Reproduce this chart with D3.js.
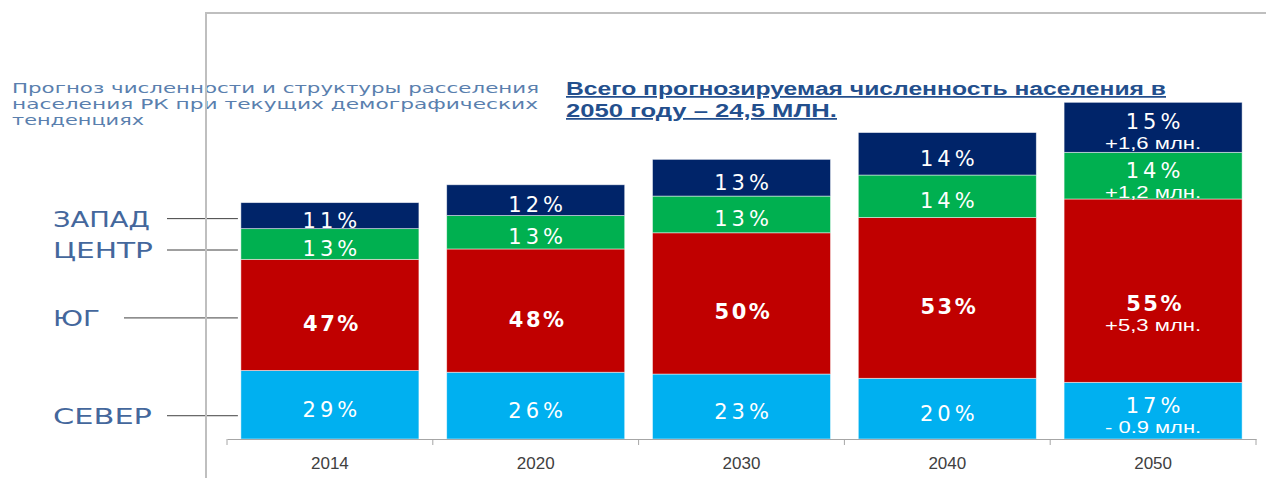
<!DOCTYPE html>
<html>
<head>
<meta charset="utf-8">
<script src="https://cdn.jsdelivr.net/npm/d3@7"></script>
<style>
  body { margin: 0; background: #fff; }
  svg { display: block; }
</style>
</head>
<body>
<div class="chart"></div>
<script>
let years = ['2014', '2020', '2030', '2040', '2050']
let totals = [17.2, 18.5, 20.35, 22.3, 24.5]   // млн. человек
let regions = ['СЕВЕР', 'ЮГ', 'ЦЕНТР', 'ЗАПАД']  // снизу вверх
let sever = [29, 26, 23, 20, 17]
let yug = [47, 48, 50, 53, 55]
let centr = [13, 13, 13, 14, 14]
let zapad = [11, 12, 13, 14, 15]
let change2050 = ['- 0.9 млн.', '+5,3 млн.', '+1,2 млн.', '+1,6 млн.']
let colors = ['#00b0f0', '#c00000', '#00b050', '#002469']

let width = 1266
let height = 478

let svg = d3.select('.chart')
            .append('svg')
            .attr('width', width)
            .attr('height', height)

let xScale = d3.scaleBand()
               .domain(years)
               .range([227, 1256])
               .paddingInner(0.135)
               .paddingOuter(0.0675)

let yScale = d3.scaleLinear()
               .domain([0, 31])
               .range([439, 13])

// stacked table
let table = years.map((y, i) => {
    let p = [sever[i], yug[i], centr[i], zapad[i]]
    let sum = d3.sum(p)
    let row = { year: y }
    regions.forEach((r, k) => { row[r] = totals[i] * p[k] / sum; row[r + '_p'] = p[k] })
    return row
})

let stack = d3.stack().keys(regions)(table)

// header texts
let leftTitle = ['Прогноз численности и структуры расселения',
                 'населения РК при текущих демографических',
                 'тенденциях']
let leftLens = [527, 526, 132]
leftTitle.forEach((t, i) => {
    svg.append('text')
       .attr('x', 12)
       .attr('y', 93 + i * 16)
       .attr('fill', '#5a7fae')
       .attr('font-family', 'DejaVu Sans')
       .attr('font-size', 14.5)
       .attr('textLength', leftLens[i])
       .attr('lengthAdjust', 'spacingAndGlyphs')
       .text(t)
})

let rightTitle = ['Всего прогнозируемая численность населения в',
                  '2050 году – 24,5 МЛН.']
let rightLens = [600, 271]
rightTitle.forEach((t, i) => {
    svg.append('text')
       .attr('x', 566)
       .attr('y', 95 + i * 22)
       .attr('fill', '#234f8d')
       .attr('font-family', 'Liberation Sans')
       .attr('font-weight', 'bold')
       .attr('font-size', 17.5)
       .attr('text-decoration', 'underline')
       .attr('textLength', rightLens[i])
       .attr('lengthAdjust', 'spacingAndGlyphs')
       .text(t)
})

// bars
let groups = svg.selectAll('g.layer')
                .data(stack)
                .enter()
                .append('g')
                .attr('class', 'layer')
                .attr('fill', (d, i) => colors[i])

groups.selectAll('rect')
      .data(d => d)
      .enter()
      .append('rect')
      .attr('x', d => xScale(d.data.year))
      .attr('y', d => yScale(d[1]))
      .attr('width', xScale.bandwidth())
      .attr('height', d => yScale(d[0]) - yScale(d[1]))
      .attr('stroke', '#ffffff')
      .attr('stroke-opacity', 0.6)
      .attr('stroke-width', 0.8)

// value labels
stack.forEach((layer, k) => {
    layer.forEach((d, i) => {
        let cx = xScale(d.data.year) + xScale.bandwidth() / 2
        let last = i === years.length - 1
        let mid = (yScale(d[0]) + yScale(d[1])) / 2 + (k === 1 ? (last ? 18 : 4) : 0)
        svg.append('text')
           .attr('x', cx + 2)
           .attr('y', last ? mid + 2 : mid + 12)
           .attr('text-anchor', 'middle')
           .attr('fill', 'white')
           .attr('font-family', 'DejaVu Sans')
           .attr('font-weight', k === 1 ? 'bold' : 'normal')
           .attr('font-size', 21)
           .attr('letter-spacing', k === 1 ? 2.5 : 4)
           .text(d.data[regions[k] + '_p'] + '%')
        if (last) {
            svg.append('text')
               .attr('x', cx)
               .attr('y', mid + 22)
               .attr('text-anchor', 'middle')
               .attr('fill', 'white')
               .attr('font-family', 'Liberation Sans')
               .attr('font-size', 16)
               .attr('textLength', 96)
               .attr('lengthAdjust', 'spacingAndGlyphs')
               .text(change2050[k])
        }
    })
})

// x axis
let xAxis = d3.axisBottom(xScale).tickSize(0).tickPadding(18)
let gx = svg.append('g')
            .attr('transform', 'translate(0,439)')
            .call(xAxis)
gx.select('.domain').attr('stroke', '#a6a6a6')
gx.selectAll('text')
  .attr('font-family', 'Liberation Sans')
  .attr('font-size', 17)
  .attr('fill', '#404040')
let bounds = years.map(y => xScale(y) - xScale.step() * xScale.paddingInner() / 2)
bounds.push(xScale.range()[1])
gx.selectAll('line.sep')
  .data(bounds)
  .enter()
  .append('line')
  .attr('class', 'sep')
  .attr('x1', d => d).attr('x2', d => d)
  .attr('y1', 0).attr('y2', 6)
  .attr('stroke', '#a6a6a6')

// region legend with leader lines (from the 2014 bar)
let labelDy = [11, 3, 6, 3]
let lineStart = [167, 124, 167, 167]
let labelLens = [99, 47, 100, 97]
stack.forEach((layer, k) => {
    let d = layer[0]
    let y = (yScale(d[0]) + yScale(d[1])) / 2 + labelDy[k]
    svg.append('text')
       .attr('x', 53)
       .attr('y', y + 8)
       .attr('fill', '#44679c')
       .attr('font-family', 'DejaVu Sans')
       .attr('font-size', 21)
       .attr('textLength', labelLens[k])
       .attr('lengthAdjust', 'spacingAndGlyphs')
       .text(regions[k])
    svg.append('line')
       .attr('x1', lineStart[k])
       .attr('x2', xScale(d.data.year) - 3)
       .attr('y1', y).attr('y2', y)
       .attr('stroke', '#404040')
       .attr('stroke-width', 1)
})

// frame
svg.append('line')
   .attr('x1', 206).attr('x2', 206)
   .attr('y1', 13).attr('y2', height)
   .attr('stroke', '#bfbfbf').attr('stroke-width', 2)
svg.append('line')
   .attr('x1', 205).attr('x2', width)
   .attr('y1', 13).attr('y2', 13)
   .attr('stroke', '#bfbfbf').attr('stroke-width', 2)
</script>
</body>
</html>
